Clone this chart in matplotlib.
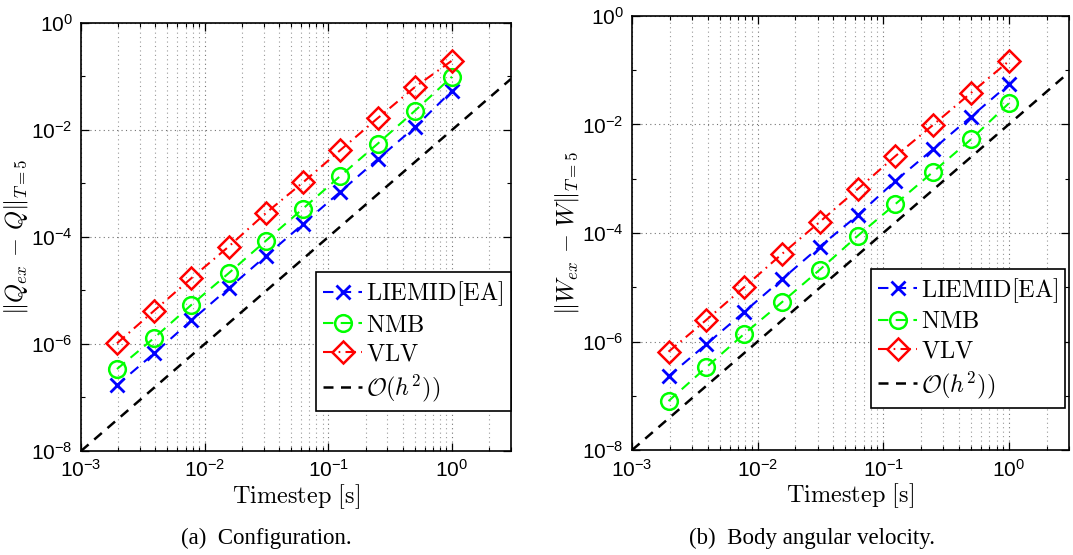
import numpy as np
import matplotlib
matplotlib.use('Agg')
import matplotlib.pyplot as plt
from matplotlib.ticker import LogLocator, NullFormatter

plt.rcParams['font.family'] = ['Liberation Sans', 'DejaVu Sans']
plt.rcParams['mathtext.fontset'] = 'cm'

# timesteps 2^-9 ... 2^0
h = [1/512, 1/256, 1/128, 1/64, 1/32, 1/16, 1/8, 1/4, 1/2, 1.0]

# (a) configuration error
cfg_liemid = [1.7e-7, 6.7e-7, 2.75e-6, 1.1e-5, 4.4e-5, 1.75e-4, 7.0e-4, 2.83e-3, 1.12e-2, 5.4e-2]
cfg_nmb = [3.4e-7, 1.3e-6, 5.4e-6, 2.1e-5, 8.5e-5, 3.4e-4, 1.38e-3, 5.5e-3, 2.27e-2, 9.9e-2]
cfg_vlv = [1.03e-6, 4.2e-6, 1.7e-5, 6.6e-5, 2.8e-4, 1.05e-3, 4.2e-3, 1.65e-2, 6.3e-2, 1.98e-1]

# (b) body angular velocity error
vel_liemid = [2.3e-7, 8.9e-7, 3.5e-6, 1.4e-5, 5.6e-5, 2.1e-4, 9.1e-4, 3.5e-3, 1.38e-2, 5.46e-2]
vel_nmb = [8.0e-8, 3.35e-7, 1.38e-6, 5.3e-6, 2.1e-5, 8.8e-5, 3.4e-4, 1.34e-3, 5.3e-3, 2.44e-2]
vel_vlv = [6.5e-7, 2.5e-6, 1.0e-5, 4.1e-5, 1.6e-4, 6.4e-4, 2.6e-3, 9.8e-3, 3.8e-2, 1.46e-1]

# reference slope line endpoints
ref_h = [1e-3, 3.0]
ref_c = 1e-2

panels = [
    (cfg_liemid, cfg_nmb, cfg_vlv, r'$\Vert Q_{ex}\, -\, Q\Vert_{T=5}$', '(a)  Configuration.'),
    (vel_liemid, vel_nmb, vel_vlv, r'$\Vert W_{ex}\, -\, W\Vert_{T=5}$', '(b)  Body angular velocity.'),
]

fig = plt.figure(figsize=(10.73, 5.55), dpi=100)
axes_pos = [[0.0755, 0.1874, 0.4007, 0.7712], [0.589, 0.189, 0.407, 0.7825]]
cap_x = [0.248, 0.757]

for k, (liemid, nmb, vlv, ylab, cap) in enumerate(panels):
    ax = fig.add_axes(axes_pos[k])
    ax.loglog(h, liemid, color='b', ls=(0, (5, 3.5)), marker='x', ms=10, mew=2, lw=1.5,
              label=r'$\mathrm{LIEMID[EA]}$')
    ax.loglog(h, nmb, color=(0, 1, 0), ls=(0, (5, 3.5)), marker='o', ms=12, mew=1.8,
              mfc='none', lw=1.5, label=r'$\mathrm{NMB}$')
    ax.loglog(h, vlv, color='r', ls=(0, (5, 2.5, 0.8, 2.5)), marker='D', ms=11, mew=1.8,
              mfc='none', lw=1.5, label=r'$\mathrm{VLV}$')
    ax.loglog(ref_h, [ref_c * x**2 for x in ref_h], color='k', ls=(0, (4, 3)), lw=1.8,
              label=r'$\mathcal{O}(h^2))$')

    ax.set_xlim(1e-3, 3.0)
    ax.set_ylim(1e-8, 1)
    ax.set_xticks([1e-3, 1e-2, 1e-1, 1e0])
    ax.xaxis.set_minor_locator(LogLocator(base=10, subs=np.arange(2, 10)))
    ax.xaxis.set_minor_formatter(NullFormatter())
    ax.set_yticks([1e-8, 1e-6, 1e-4, 1e-2, 1e0])
    ax.yaxis.set_minor_locator(LogLocator(base=10, subs=[1.0], numticks=20))
    ax.yaxis.set_minor_formatter(NullFormatter())

    ax.grid(True, which='major', axis='both', ls=(0, (1, 3)), color='0.45', lw=0.8)
    ax.grid(True, which='minor', axis='x', ls=(0, (1, 3)), color='0.6', lw=0.8)
    ax.tick_params(which='both', direction='in', top=True, right=True, labelsize=15)
    ax.tick_params(which='major', length=6, width=0.9, pad=6)
    ax.tick_params(which='minor', length=3, width=0.8)
    for s in ax.spines.values():
        s.set_linewidth(1.2)

    ax.set_xlabel(r'$\mathrm{Timestep\ [s]}$', fontsize=17.5, labelpad=1)
    ax.set_ylabel(ylab, fontsize=17.5, labelpad=1)

    leg = ax.legend(loc='upper left', bbox_to_anchor=(0.547, 0.418), fontsize=17.5,
                    handlelength=1.6, handletextpad=0.15, borderpad=0.3,
                    labelspacing=0.28, fancybox=False, framealpha=1, edgecolor='k',
                    borderaxespad=0)
    leg.get_frame().set_linewidth(1.2)

    fig.text(cap_x[k], 0.03, cap, ha='center', va='center', fontsize=16.5,
             family='Liberation Serif')

fig.savefig('out.png', dpi=100)
